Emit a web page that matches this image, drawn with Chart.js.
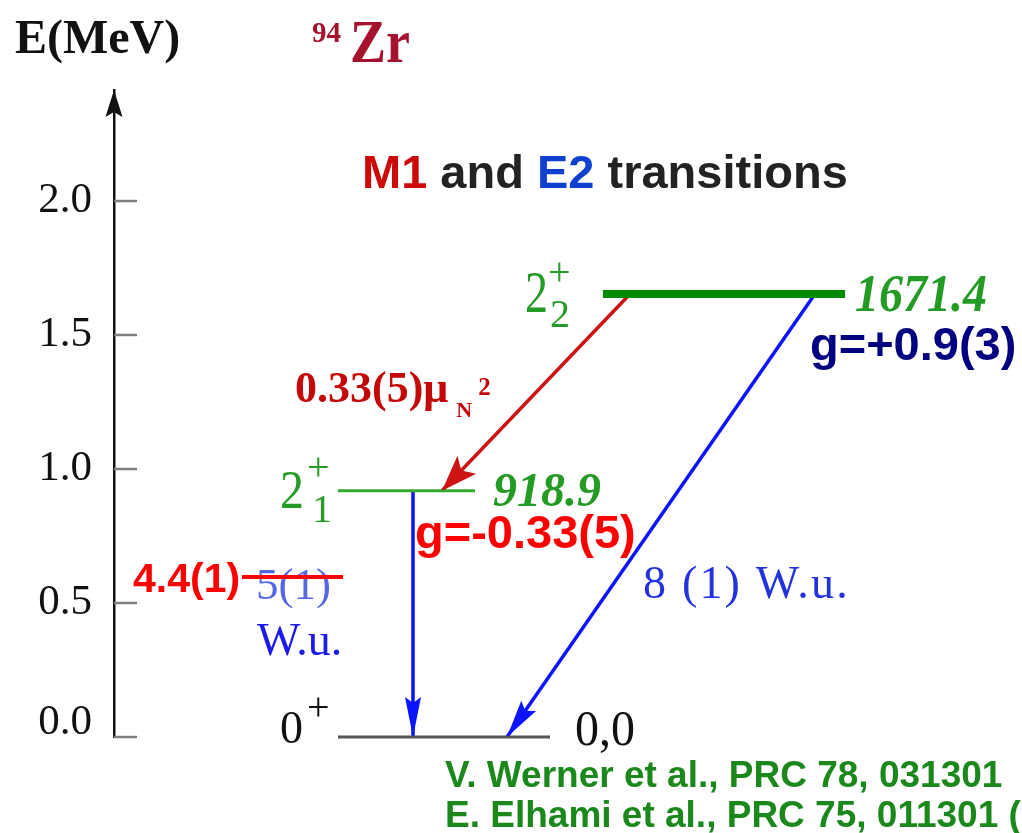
<!DOCTYPE html>
<html>
<head>
<meta charset="utf-8">
<script src="https://cdn.jsdelivr.net/npm/chart.js@4.4.1/dist/chart.umd.min.js"></script>
<style>
  html, body { margin: 0; padding: 0; background: #fff; }
  #wrap { width: 1022px; height: 833px; }
</style>
</head>
<body>
<div id="wrap"><canvas id="levels" width="1022" height="833"></canvas></div>
<script>
// 94Zr low-lying levels, M1 and E2 transitions
const levelSpins = ["0", "2", "2"];
const levelIndex = ["", "1", "2"];
const levelEnergies = [0.0, 0.919, 1.653]; // MeV, as drawn
const levelLabels = ["0,0", "918.9", "1671.4"];
const transFrom = [2, 2, 1];
const transTo = [1, 0, 0];
const yTicks = [0.0, 0.5, 1.0, 1.5, 2.0];

const SERIF = '"Liberation Serif", "Times New Roman", serif';
const SANS = '"Liberation Sans", Arial, sans-serif';
const GREEN = "#249b24";

// layout (x in diagram units 0..10)
const levelStyle = [
  { color: "#555555", width: 3, x0: 2.467, x1: 4.802 },
  { color: "#33a833", width: 3, x0: 2.467, x1: 3.976 },
  { color: "#008a00", width: 8, x0: 5.385, x1: 8.051 },
];
const transStyle = [
  { color: "#cc1414", width: 3.5, x0: 5.683, x1: 3.612, head: [36, 13, 8] },
  { color: "#0a14ff", width: 3.5, x0: 7.72, x1: 4.328, head: [38, 9, 6] },
  { color: "#0a14ff", width: 3.5, x0: 3.293, x1: 3.293, head: [40, 8, 6] },
];

const datasets = [];
levelEnergies.forEach((e, i) => {
  const s = levelStyle[i];
  datasets.push({
    data: [{ x: s.x0, y: e }, { x: s.x1, y: e }],
    borderColor: s.color, borderWidth: s.width,
    pointRadius: 0, clip: false,
  });
});
transFrom.forEach((f, i) => {
  const s = transStyle[i];
  datasets.push({
    data: [{ x: s.x0, y: levelEnergies[f] }, { x: s.x1, y: levelEnergies[transTo[i]] }],
    borderColor: s.color, borderWidth: s.width,
    pointRadius: 0, clip: false,
  });
});

function put(ctx, s, x, y, font, color, opts) {
  opts = opts || {};
  ctx.save();
  ctx.font = font;
  ctx.fillStyle = color;
  ctx.textAlign = opts.align || "left";
  ctx.textBaseline = "alphabetic";
  if (opts.ls) ctx.letterSpacing = opts.ls + "px";
  ctx.translate(x, y);
  ctx.scale(1, opts.sy || 1);
  ctx.fillText(s, 0, 0);
  const w = ctx.measureText(s).width;
  ctx.restore();
  return w;
}

function head(ctx, x0, y0, x1, y1, L, W, n, color) {
  const len = Math.hypot(x1 - x0, y1 - y0);
  const ux = (x1 - x0) / len, uy = (y1 - y0) / len;
  const px = -uy, py = ux;
  const bx = x1 - ux * L, by = y1 - uy * L;
  ctx.save();
  ctx.fillStyle = color;
  ctx.beginPath();
  ctx.moveTo(x1, y1);
  ctx.lineTo(bx + px * W, by + py * W);
  ctx.lineTo(x1 - ux * (L - n), y1 - uy * (L - n));
  ctx.lineTo(bx - px * W, by - py * W);
  ctx.closePath();
  ctx.fill();
  ctx.restore();
}

// offsets of spin labels relative to level left end / level line
const spinLayout = [
  { main: [-58, 6, 46, 1.0], sup: [-31, -17], sub: null },
  { main: [-58, 17, 48, 1.15], sup: [-31, -11], sub: [-26, 31, 40] },
  { main: [-78, 18, 46, 1.3], sup: [-55, -9], sub: [-53, 33, 40] },
];
const energyLayout = [
  { dx: 25, dy: 8, font: "48px " + SERIF, color: "#111", sy: 1.05 },
  { dx: 18, dy: 15, font: "italic bold 48px " + SERIF, color: GREEN, sy: 1 },
  { dx: 10, dy: 17, font: "italic bold 48px " + SERIF, color: GREEN, sy: 1.12 },
];

const overlay = {
  id: "overlay",
  afterDatasetsDraw(chart) {
    const ctx = chart.ctx;
    transFrom.forEach((f, i) => {
      const meta = chart.getDatasetMeta(levelEnergies.length + i);
      const a = meta.data[0], b = meta.data[1];
      const h = transStyle[i].head;
      head(ctx, a.x, a.y, b.x, b.y, h[0], h[1], h[2], transStyle[i].color);
    });
  },
  afterDraw(chart) {
    const ctx = chart.ctx;
    const xs = chart.scales.x, ys = chart.scales.y;
    const ax = chart.chartArea.left;

    // inward tick marks
    ctx.save();
    ctx.strokeStyle = "#808080";
    ctx.lineWidth = 2.5;
    ys.ticks.forEach(t => {
      const py = Math.round(ys.getPixelForValue(t.value));
      ctx.beginPath();
      ctx.moveTo(ax, py);
      ctx.lineTo(ax + 23, py);
      ctx.stroke();
    });
    ctx.restore();
    // axis arrow
    head(ctx, ax, 200, ax, chart.chartArea.top, 27, 8.5, 5, "#111");

    // headings
    put(ctx, "E(MeV)", 15, 53, "bold 48px " + SERIF, "#111");
    put(ctx, "94", 312, 42, "bold 29px " + SERIF, "#a5122d");
    put(ctx, "Zr", 350, 62, "bold 54px " + SERIF, "#a5122d", { sy: 1.12 });
    let tx = 362;
    const tf = "bold 47px " + SANS;
    tx += put(ctx, "M1", tx, 188, tf, "#cc0a0a");
    tx += put(ctx, " and ", tx, 188, tf, "#222");
    tx += put(ctx, "E2", tx, 188, tf, "#1040d0");
    put(ctx, " transitions", tx, 188, tf, "#222");

    // level labels
    levelEnergies.forEach((e, i) => {
      const st = levelStyle[i];
      const yl = ys.getPixelForValue(e);
      const xa = xs.getPixelForValue(st.x0);
      const xb = xs.getPixelForValue(st.x1);
      const col = i === 0 ? "#111" : GREEN;
      const L = spinLayout[i];
      put(ctx, levelSpins[i], xa + L.main[0], yl + L.main[1], L.main[2] + "px " + SERIF, col, { sy: L.main[3] });
      put(ctx, "+", xa + L.sup[0], yl + L.sup[1], "40px " + SERIF, col);
      if (L.sub) put(ctx, levelIndex[i], xa + L.sub[0], yl + L.sub[1], L.sub[2] + "px " + SERIF, col);
      const E = energyLayout[i];
      put(ctx, levelLabels[i], xb + E.dx, yl + E.dy, E.font, E.color, { sy: E.sy });
    });

    // g factors
    put(ctx, "g=-0.33(5)", 415, 548, "bold 47px " + SANS, "#ff0000");
    put(ctx, "g=+0.9(3)", 810, 360, "bold 47px " + SANS, "#000080");

    // M1 strength
    const mw = put(ctx, "0.33(5)\u03bc", 295, 402, "bold 44px " + SERIF, "#c40808");
    put(ctx, "N", 295 + mw + 8, 417, "bold 22px " + SERIF, "#c40808");
    put(ctx, "2", 295 + mw + 30, 395, "bold 25px " + SERIF, "#c40808");

    // E2 strengths
    put(ctx, "5(1)", 256, 599, "45px " + SERIF, "#5468e4");
    put(ctx, "W.u.", 257, 655, "46px " + SERIF, "#1a1aee");
    put(ctx, "4.4(1)", 133, 592, "bold 41px " + SANS, "#ff0000");
    ctx.save();
    ctx.strokeStyle = "#ff0000";
    ctx.lineWidth = 4;
    ctx.beginPath();
    ctx.moveTo(242, 577);
    ctx.lineTo(343, 577);
    ctx.stroke();
    ctx.restore();
    put(ctx, "8 (1) W.u.", 643, 598, "46px " + SERIF, "#2233dd", { ls: 2.2 });

    // references
    put(ctx, "V. Werner et al., PRC 78, 031301", 445, 787, "bold 37px " + SANS, "#1b881b");
    put(ctx, "E. Elhami et al., PRC 75, 011301 (", 445, 827, "bold 37px " + SANS, "#1b881b");
  }
};

new Chart(document.getElementById("levels"), {
  type: "line",
  data: { datasets },
  options: {
    responsive: false,
    animation: false,
    devicePixelRatio: 1,
    layout: { padding: { top: 90, bottom: 96, left: 0, right: 0 } },
    plugins: { legend: { display: false }, tooltip: { enabled: false } },
    scales: {
      x: { type: "linear", min: 0, max: 10, display: false },
      y: {
        min: 0,
        max: 2.414,
        afterFit(s) { s.width = 114; },
        afterBuildTicks(s) { s.ticks = yTicks.map(v => ({ value: v })); },
        grid: { display: false, drawTicks: false },
        border: { display: true, color: "#111", width: 2.5 },
        ticks: {
          padding: 22,
          color: "#111",
          autoSkip: false,
          font: c => c.index === 0
            ? { family: SERIF, size: 43, lineHeight: 0.68 }
            : { family: SERIF, size: 43 },
          callback: v => v === 0 ? [v.toFixed(1), ""] : v.toFixed(1),
        },
      },
    },
  },
  plugins: [overlay],
});
</script>
</body>
</html>
